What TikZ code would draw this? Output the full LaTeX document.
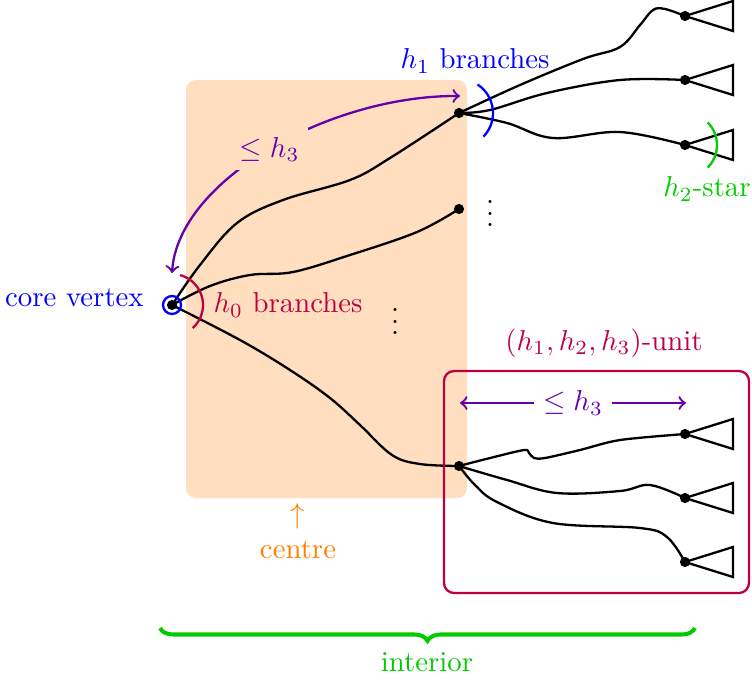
\documentclass[tikz,border=0pt]{standalone}
\usepackage{amsmath,amssymb}
\usepackage{tikz}
\usetikzlibrary{decorations.pathreplacing}
\definecolor{peach}{RGB}{255,223,191}
\definecolor{arrowviolet}{RGB}{102,0,170}
\definecolor{stargreen}{RGB}{0,204,0}

\begin{document}
\begin{tikzpicture}[x=0.0122cm,y=-0.0122cm]
  \tikzset{
    vtx/.style={circle,fill,inner sep=1.25pt},
    branch/.style={thick},
    lbl/.style={inner sep=2pt},
  }
  \useasboundingbox (0,0) rectangle (752,682);

  % the centre is a shaded box behind everything
  \fill[peach,rounded corners=3.5pt] (186,80) rectangle (467,498);

  % vertices of the tree
  \node[vtx] (core) at (172,305) {};
  \node[vtx] (A) at (459,113) {};
  \node[vtx] (B) at (459,209) {};
  \node[vtx] (C) at (459,466) {};
  \node[vtx] (a1) at (685,16) {};
  \node[vtx] (a2) at (685,80) {};
  \node[vtx] (a3) at (685,145) {};
  \node[vtx] (c1) at (685,434) {};
  \node[vtx] (c2) at (685,498) {};
  \node[vtx] (c3) at (685,562) {};

  % stars hanging off the leaves
  \foreach \l in {a1,a2,a3,c1,c2,c3}
    \draw[thick] (\l.center) -- ++(48,-15) -- ++(0,30) -- cycle;

  % branches from the core vertex
  \draw[branch] plot[smooth,tension=0.6] coordinates
    {(core) (200,265) (237,223) (283,200) (350,180) (390,158) (A)};
  \draw[branch] plot[smooth,tension=0.6] coordinates
    {(core) (210,286) (250,275) (293,272) (350,255) (417,232) (B)};
  \draw[branch] plot[smooth,tension=0.6] coordinates
    {(core) (240,340) (290,370) (330,398) (360,425) (392,455) (420,464) (C)};

  % branches of the upper unit
  \draw[branch] plot[smooth,tension=0.6] coordinates
    {(A) (520,85) (583,59) (620,47) (640,25) (653,10) (665,9) (a1)};
  \draw[branch] plot[smooth,tension=0.6] coordinates
    {(A) (490,110) (547,93) (620,80) (a2)};
  \draw[branch] plot[smooth,tension=0.6] coordinates
    {(A) (507,123) (553,138) (620,132) (a3)};

  % branches of the lower unit
  \draw[branch] plot[smooth,tension=0.5] coordinates
    {(C) (490,458) (524,450) (529,453) (534,458) (545,458) (580,450) (620,440) (c1)};
  \draw[branch] plot[smooth,tension=0.6] coordinates
    {(C) (507,480) (557,493) (620,491) (650,485) (c2)};
  \draw[branch] plot[smooth,tension=0.6] coordinates
    {(C) (475,485) (497,502) (553,523) (640,528) (667,537) (c3)};

  % the core vertex is circled
  \draw[blue,thick] (core) circle[radius=9];

  % arcs marking the branchings
  \draw[purple,thick] (core.center) ++(-75:31) arc[start angle=-75,end angle=48,radius=31];
  \draw[blue,thick] (A.center) ++(-57:34) arc[start angle=-57,end angle=44,radius=34];
  \draw[stargreen,thick] (a3.center) ++(-45:32) arc[start angle=-45,end angle=45,radius=32];

  % labels
  \node[lbl,blue,anchor=east] (corelbl) at (150,298) {core vertex};
  \node[lbl,purple] (hzero) at (288,305) {$h_0$ branches};
  \node[lbl,blue] (hone) at (475,61) {$h_1$ branches};
  \node[lbl,stargreen] (htwo) at (707,189) {$h_2$-star};
  \node (dotsB) at (490,205) {$\vdots$};
  \node (dotsmid) at (395,313) {$\vdots$};

  % distance from core to the first unit
  \coordinate (dstart) at (172,273);
  \coordinate (dend) at (460,96);
  \draw[arrowviolet,thick,<->] (dstart) .. controls (178,180) and (330,95) .. (dend)
    node[pos=0.5,fill=peach,text=arrowviolet,inner sep=3pt] (hthree) {$\le h_3$};

  % one unit, boxed
  \draw[purple,thick,rounded corners=3.5pt] (444,371) rectangle (749,593);
  \node[lbl,purple] (unitlbl) at (604,343) {$(h_1,h_2,h_3)$-unit};
  \coordinate (u1) at (460,403);
  \coordinate (u2) at (686,403);
  \draw[arrowviolet,thick,<->] (u1) -- (u2)
    node[midway,fill=white,text=arrowviolet,inner sep=3pt] (udist) {$\le h_3$};

  % centre and interior
  \node[orange] (centrearrow) at (298,516) {$\uparrow$};
  \node[orange] (centrelbl) at (298,550) {centre};
  \draw[stargreen,line width=1.4pt,decorate,decoration={brace,mirror,amplitude=4.5pt}]
    (160,628) -- (695,628);
  \node[stargreen] (interior) at (427,662) {interior};
\end{tikzpicture}
\end{document}
